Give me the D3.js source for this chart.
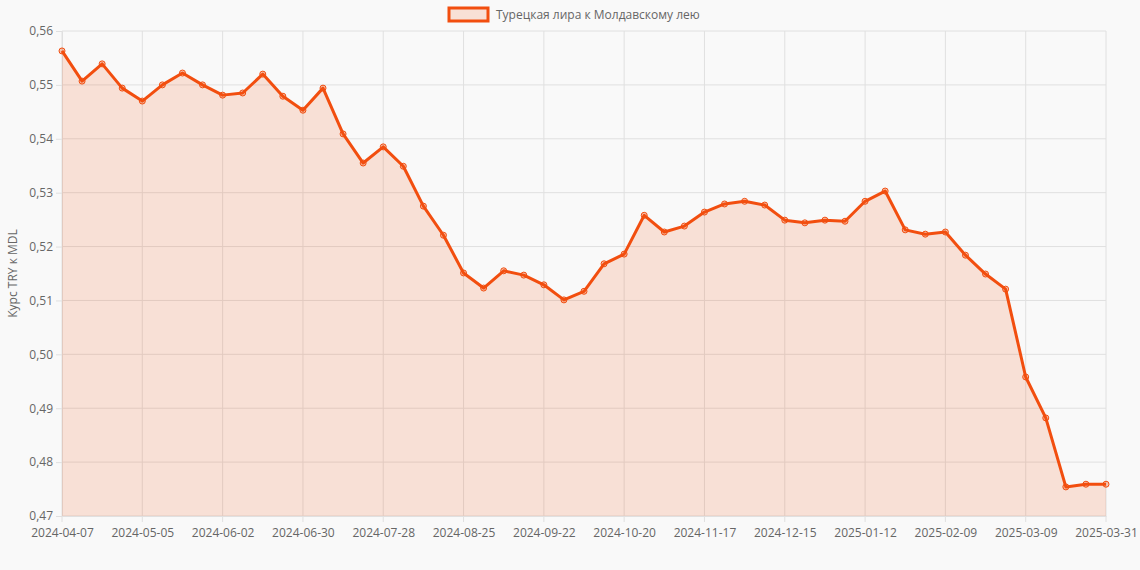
<!DOCTYPE html>
<html><head><meta charset="utf-8">
<script src="https://cdn.jsdelivr.net/npm/d3@7"></script>
<style>body{margin:0;background:#f9f9f9;font-family:"Open Sans",Arial,sans-serif}</style>
</head><body><svg id="c" width="1140" height="570"></svg>
<script>
const dates = ["2024-04-07","2024-04-14","2024-04-21","2024-04-28","2024-05-05","2024-05-12","2024-05-19","2024-05-26","2024-06-02","2024-06-09","2024-06-16","2024-06-23","2024-06-30","2024-07-07","2024-07-14","2024-07-21","2024-07-28","2024-08-04","2024-08-11","2024-08-18","2024-08-25","2024-09-01","2024-09-08","2024-09-15","2024-09-22","2024-09-29","2024-10-06","2024-10-13","2024-10-20","2024-10-27","2024-11-03","2024-11-10","2024-11-17","2024-11-24","2024-12-01","2024-12-08","2024-12-15","2024-12-22","2024-12-29","2025-01-05","2025-01-12","2025-01-19","2025-01-26","2025-02-02","2025-02-09","2025-02-16","2025-02-23","2025-03-02","2025-03-09","2025-03-16","2025-03-23","2025-03-30","2025-03-31"];
const values = [0.5563,0.5507,0.5539,0.5494,0.5470,0.5500,0.5522,0.5500,0.5481,0.5485,0.5520,0.5479,0.5453,0.5494,0.5409,0.5355,0.5385,0.5349,0.5275,0.5221,0.5151,0.5123,0.5155,0.5147,0.5129,0.5101,0.5117,0.5168,0.5186,0.5258,0.5227,0.5238,0.5264,0.5279,0.5284,0.5277,0.5249,0.5244,0.5249,0.5247,0.5284,0.5303,0.5231,0.5223,0.5227,0.5184,0.5149,0.5121,0.4958,0.4882,0.4754,0.4759,0.4759];
const yTicks = [0.47,0.48,0.49,0.50,0.51,0.52,0.53,0.54,0.55,0.56];
const tickDates = ["2024-04-07","2024-05-05","2024-06-02","2024-06-30","2024-07-28","2024-08-25","2024-09-22","2024-10-20","2024-11-17","2024-12-15","2025-01-12","2025-02-09","2025-03-09","2025-03-31"];
const seriesName = "Турецкая лира к Молдавскому лею";
const yTitle = "Курс TRY к MDL";
const color = "#f24e0f";

const svg = d3.select("#c");
const L=62,R=1106,T=31,B=516;
const x = d3.scalePoint().domain(dates).range([L,R]);
const y = d3.scaleLinear().domain([0.47,0.56]).range([B,T]);
const fmt = d => d3.format(".2f")(d).replace(".",",");

svg.append("g").selectAll("line").data(yTicks).join("line")
 .attr("x1",L).attr("x2",R).attr("y1",d=>y(d)).attr("y2",d=>y(d)).attr("stroke","#e0e0e0");
svg.append("g").selectAll("line").data(tickDates).join("line")
 .attr("x1",d=>x(d)).attr("x2",d=>x(d)).attr("y1",T).attr("y2",B+6).attr("stroke","#e0e0e0");
svg.append("g").attr("transform",`translate(${L},0)`)
 .call(d3.axisLeft(y).tickValues(yTicks).tickFormat(fmt).tickSize(6))
 .call(g=>{g.select(".domain").attr("stroke","#e0e0e0");g.selectAll(".tick line").attr("stroke","#e0e0e0");
   g.selectAll("text").attr("fill","#666").style("font-size","12px").attr("font-family","Open Sans, Arial");});
svg.append("g").attr("transform",`translate(0,${B})`)
 .call(d3.axisBottom(x).tickValues(tickDates).tickSize(0).tickPadding(12))
 .call(g=>{g.select(".domain").attr("stroke","#e0e0e0");
   g.selectAll("text").attr("fill","#666").style("font-size","12px").attr("font-family","Open Sans, Arial");});

const data = dates.map((d,i)=>({d,v:values[i]}));
svg.append("path").datum(data).attr("fill","rgba(242,78,15,0.15)")
 .attr("d",d3.area().x(p=>x(p.d)).y0(B).y1(p=>y(p.v)));
svg.append("path").datum(data).attr("fill","none").attr("stroke",color).attr("stroke-width",3)
 .attr("stroke-linejoin","round").attr("d",d3.line().x(p=>x(p.d)).y(p=>y(p.v)));
svg.append("g").selectAll("circle").data(data).join("circle")
 .attr("cx",p=>x(p.d)).attr("cy",p=>y(p.v)).attr("r",3)
 .attr("fill","rgba(242,78,15,0.3)").attr("stroke",color).attr("stroke-width",1);

svg.append("text").attr("transform",`translate(17,${(T+B)/2}) rotate(-90)`).attr("text-anchor","middle")
 .attr("fill","#666").style("font-size","12px").text(yTitle);
const lg = svg.append("g");
lg.append("rect").attr("x",449).attr("y",8).attr("width",39).attr("height",13)
 .attr("fill","rgba(242,78,15,0.15)").attr("stroke",color).attr("stroke-width",3);
lg.append("text").attr("x",496).attr("y",19).attr("fill","#666").style("font-size","12px").text(seriesName);
</script></body></html>
